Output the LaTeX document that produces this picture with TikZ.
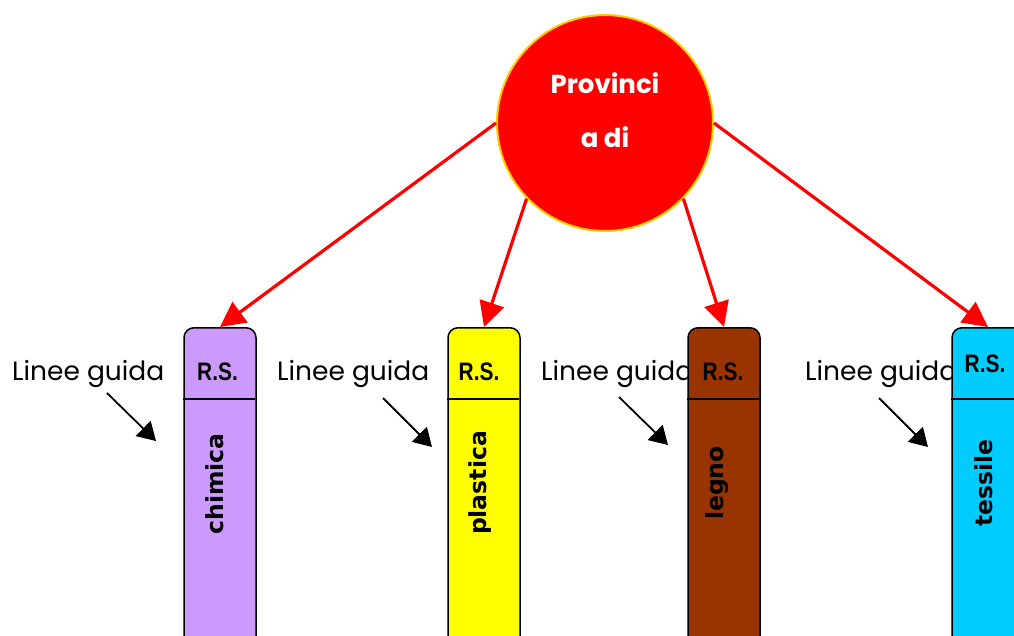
\documentclass[tikz,border=0pt]{standalone}
\usepackage{fontspec}
\setmainfont{Poppins}
\newfontfamily\labfont{DejaVu Sans}
\newfontfamily\rsfont{Liberation Sans}
\usetikzlibrary{arrows.meta,calc}
\definecolor{cpurple}{HTML}{CC99FF}
\definecolor{cyellow}{HTML}{FFFF00}
\definecolor{cbrown}{HTML}{993300}
\definecolor{ccyan}{HTML}{00CCFF}
\definecolor{cgold}{HTML}{FFCC00}
\newcommand{\rstext}{\scalebox{0.95}[1.15]{R.S.}}
\tikzset{
  catbox/.style={draw=black, line width=1.5pt, rounded corners=10pt, minimum width=72pt, minimum height=340pt, anchor=north, inner sep=0pt},
  rslabel/.style={font=\rsfont\bfseries\fontsize{22}{22}\selectfont, anchor=base, inner sep=0pt},
  catlabel/.style={font=\labfont\bfseries\fontsize{23.5}{23.5}\selectfont, rotate=90, anchor=base, inner sep=0pt},
  guide/.style={font=\fontsize{26.5}{26.5}\selectfont, anchor=base west, inner sep=0pt},
  circtext/.style={font=\bfseries\fontsize{26}{26}\selectfont, text=white, anchor=base, inner sep=0pt},
  redarrow/.style={draw=red, line width=3.2pt, -{Triangle[length=25pt,width=25pt]}},
  blackarrow/.style={draw=black, line width=1.8pt, -{Triangle[length=18pt,width=21pt]}}
}
\begin{document}
\begin{tikzpicture}[x=1pt,y=-1pt]
\useasboundingbox (0,0) rectangle (1014,635);
\clip (0,0) rectangle (1014,635);
% guide texts (behind boxes)
\node[guide] (g1) at (12,380) {Linee guida};
\node[guide] (g2) at (277,380) {Linee guida};
\node[guide] (g3) at (541,380) {Linee guida};
\node[guide] (g4) at (805,380) {Linee guida};
% boxes
\node[catbox, fill=cpurple] (b1) at (220,327) {};
\node[catbox, fill=cyellow] (b2) at (484,327) {};
\node[catbox, fill=cbrown] (b3) at (724,327) {};
\node[catbox, fill=ccyan] (b4) at (988,327) {};
\foreach \b in {b1,b2,b3,b4}{
  \draw[line width=1.5pt] (\b.north west) ++(0,72) -- ++(72,0);
}
\node[rslabel] (r1) at (217.5,380) {\rstext};
\node[rslabel] (r2) at (479,380) {\rstext};
\node[rslabel] (r3) at (723,380) {\rstext};
\node[rslabel] (r4) at (985,372) {\rstext};
\node[catlabel] (l1) at (223,484) {chimica};
\node[catlabel] (l2) at (486,483) {plastica};
\node[catlabel] (l3) at (723,483) {legno};
\node[catlabel] (l4) at (992,483) {tessile};
% circle
\node[circle, draw=cgold, line width=2pt, fill=red, minimum size=216pt, inner sep=0pt] (prov) at (605,123) {};
\node[circtext] (t1) at (605,93) {Provinci};
\node[circtext] (t2) at (605,147) {a di};
% red arrows
\draw[redarrow] (prov.west) -- (b1.north);
\draw[redarrow] (prov.224.6) -- (b2.north);
\draw[redarrow] (prov.-44.6) -- (b3.north);
\draw[redarrow] (prov.east) -- (b4.north);
% black arrows
\coordinate (s1) at (107,393); \coordinate (e1) at (156,441);
\coordinate (s2) at (383,398); \coordinate (e2) at (432,447);
\coordinate (s3) at (619,397); \coordinate (e3) at (668,445);
\coordinate (s4) at (879,398); \coordinate (e4) at (928,447);
\draw[blackarrow] (s1) -- (e1);
\draw[blackarrow] (s2) -- (e2);
\draw[blackarrow] (s3) -- (e3);
\draw[blackarrow] (s4) -- (e4);
\end{tikzpicture}
\end{document}
